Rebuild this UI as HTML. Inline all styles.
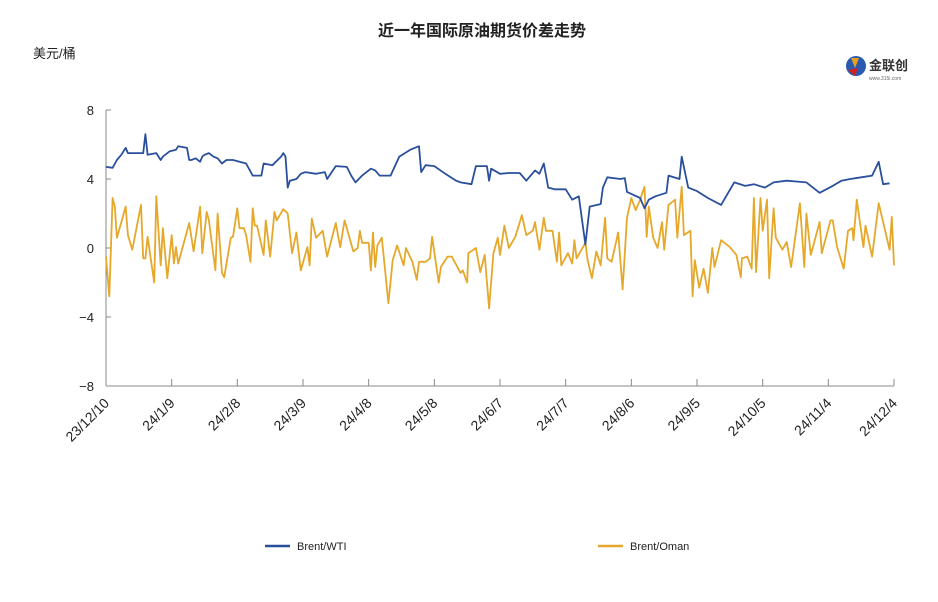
<!DOCTYPE html>
<html><head><meta charset="utf-8"><style>
body{margin:0;background:#fff;}
svg{display:block;font-family:"Liberation Sans","Noto Sans CJK SC",sans-serif;}
</style></head><body>
<svg id="c" width="938" height="602">
<text x="482" y="36" text-anchor="middle" font-size="16" font-weight="bold" fill="#222">近一年国际原油期货价差走势</text>
<text x="33" y="58" font-size="13" fill="#222">美元/桶</text>
<g>
<circle cx="856" cy="66" r="10" fill="#2a5ab0"/><path d="M851 58 l8 0 l-4 10z" fill="#e8a020"/><path d="M848 70 l10 -2 l-3 8z" fill="#d02020"/>
<text x="869" y="70" font-size="13" font-weight="bold" fill="#333">金联创</text>
<text x="869" y="80" font-size="5" fill="#666">www.315i.com</text>
</g>
<g id="axes"></g>
<g id="series"></g>
<g>
<line x1="265" y1="546" x2="290" y2="546" stroke="#2a4f9c" stroke-width="2.5"/>
<text x="297" y="550" font-size="11" fill="#222">Brent/WTI</text>
<line x1="598" y1="546" x2="623" y2="546" stroke="#e6a82a" stroke-width="2.5"/>
<text x="630" y="550" font-size="11" fill="#222">Brent/Oman</text>
</g>
</svg>
<script>
const yTicks=[8,4,0,-4,-8];
const xTickLabels=["23/12/10","24/1/9","24/2/8","24/3/9","24/4/8","24/5/8","24/6/7","24/7/7","24/8/6","24/9/5","24/10/5","24/11/4","24/12/4"];
const xTickDays=[0,30,60,90,120,150,180,210,240,270,300,330,360];
const wtiDays=[0,3,5,7,9,10,17,18,19,23,25,26,29,32,33,37,38,39,41,43,44,45,47,49,51,53,55,58,64,67,71,72,76,80,81,82,83,84,87,89,91,96,100,101,105,110,112,114,117,121,123,125,130,132,134,139,143,144,146,150,155,160,162,167,169,174,175,176,180,184,189,192,196,198,200,202,205,210,213,216,219,221,226,227,229,235,237,238,244,246,248,251,256,257,262,263,266,270,275,281,287,292,296,301,305,311,316,320,326,332,336,340,345,350,353,355,358,360];
const wtiVals=[4.7,4.65,5.1,5.4,5.8,5.5,5.5,6.6,5.4,5.5,5.1,5.3,5.6,5.7,5.9,5.8,5.1,5.1,5.2,5.0,5.3,5.4,5.5,5.3,5.2,4.9,5.1,5.1,4.9,4.2,4.2,4.9,4.8,5.3,5.5,5.3,3.5,3.9,4.0,4.3,4.4,4.3,4.4,4.0,4.75,4.7,4.2,3.8,4.2,4.6,4.5,4.2,4.2,4.75,5.3,5.7,5.9,4.4,4.8,4.75,4.3,3.9,3.8,3.7,4.75,4.75,3.9,4.6,4.3,4.35,4.35,3.9,4.5,4.3,4.9,3.5,3.4,3.4,2.8,3.0,0.2,2.4,2.55,3.5,4.1,4.0,4.05,3.25,2.9,2.3,2.8,3.0,3.2,4.2,4.0,5.3,3.5,3.3,2.9,2.5,3.8,3.6,3.7,3.5,3.8,3.9,3.85,3.8,3.2,3.6,3.9,4.0,4.1,4.2,5.0,3.7,3.75];
const omanDays=[0,1.5,3,4,5,9,10,12,16,17,18,19,22,23,25,26,28,30,31,32,33,38,40,43,44,46,47,50,51,53,54,57,58,60,61,63,64,66,67,68,69,72,73,75,77,78,81,83,85,87,89,92,93,94,96,99,101,105,107,109,113,115,116,117,120,121,122,123,124,126,129,131,133,136,137,140,142,143,146,148,149,152,153,156,158,162,163,165,165.5,169,171,173,175,177,179,180,182,184,187,190,192,195,196,198,200,201,204,206,207,208,211,213,214,215,219,220,222,224,226,228,229,231,234,236,238,240,242,244,246,247,248,250,252,254,255,257,260,261,263,264,267,268,269,271,273,275,277,278,281,285,288,290,290.5,293,295,296,297,299,300,302,303,305,306,309,311,313,317,319,320,322,326,327,331,332,334,337,339,341,341.5,343,346,347,350,353,358,359,360];
const omanVals=[-0.5,-2.8,2.9,2.4,0.6,2.4,0.75,-0.1,2.5,-0.6,-0.6,0.65,-2.0,3.0,-1.0,1.15,-1.75,0.75,-0.9,0.05,-0.9,1.45,-0.2,2.4,-0.3,2.1,1.6,-1.3,2.0,-1.45,-1.7,0.6,0.65,2.3,1.15,1.15,0.75,-0.8,2.3,1.3,1.3,-0.4,1.6,-0.5,2.1,1.6,2.25,2.0,-0.3,0.9,-1.3,0.05,-1.0,1.7,0.6,1.0,-0.5,1.45,0.05,1.6,-0.2,0,1.0,0.3,0.3,-1.3,0.9,-1.1,0.15,0.6,-3.2,-0.7,0.15,-1.0,0,-0.8,-1.85,-0.8,-0.8,-0.6,0.65,-2.0,-1.1,-0.5,-0.5,-1.45,-1.3,-2.0,-0.3,0,-1.4,-0.4,-3.5,-0.3,0.6,-0.4,1.3,0,0.65,1.9,0.75,1.0,1.5,-0.1,1.75,1.0,1.0,-0.8,0.9,-1.0,-0.3,-0.9,0.45,-0.6,0.3,-0.7,-1.75,-0.2,-1.0,1.75,-0.6,-0.8,0.9,-2.4,1.75,2.9,2.2,2.8,3.55,0.65,2.4,0.6,0,1.5,-0.1,2.5,2.8,0.6,3.55,0.75,1.0,-2.8,-0.7,-2.3,-1.2,-2.6,0,-1.1,0.45,0.05,-0.4,-1.7,-0.6,-0.5,-1.2,2.9,-1.4,2.9,1.0,2.8,-1.75,2.3,0.6,-0.1,0.35,-1.1,2.6,-1.1,2.0,-0.4,1.5,-0.3,1.6,1.6,0.05,-1.2,1.0,1.15,0.45,2.8,0.05,1.3,-0.5,2.6,-0.1,1.8,-1.0];

const X0=106,X1=894,Y0=110,Y1=386;
const xs=d=>X0+(X1-X0)*d/360;
const ys=v=>Y0+(Y1-Y0)*(8-v)/16;
const NS="http://www.w3.org/2000/svg";
const ax=document.getElementById('axes'),se=document.getElementById('series');
function mk(tag,at,parent){const e=document.createElementNS(NS,tag);for(const k in at)e.setAttribute(k,at[k]);parent.appendChild(e);return e;}
let l=mk('line',{x1:X0,y1:Y0,x2:X0,y2:Y1,stroke:'#888','stroke-width':1},ax);


l=mk('line',{x1:X0,y1:Y1,x2:X1,y2:Y1,stroke:'#888','stroke-width':1},ax);


yTicks.forEach(v=>{
  const t=mk('line',{x1:X0,y1:ys(v),x2:X0+5,y2:ys(v),stroke:'#888'},ax);
  
  
  const tx=mk('text',{x:X0-12,y:ys(v)+5,'text-anchor':'end','font-size':13,fill:'#222'},ax);
  tx.textContent=v<0?'\u2212'+(-v):String(v);
  
  
});
xTickDays.forEach((d,i)=>{
  const x=xs(d);
  const t=mk('line',{x1:x,y1:Y1,x2:x,y2:Y1-7,stroke:'#888'},ax);
  
  
  const tx=mk('text',{x:x+4,y:Y1+18,'text-anchor':'end','font-size':14,fill:'#222',transform:`rotate(-45 ${x+4} ${Y1+18})`},ax);
  tx.textContent=xTickLabels[i];
  
  
});
function line(days,vals,color,name){
  const p=mk('polyline',{points:days.map((d,i)=>xs(d).toFixed(1)+','+ys(vals[i]).toFixed(1)).join(' '),fill:'none',stroke:color,'stroke-width':1.8,'stroke-linejoin':'round'},se);
  
  
}
line(omanDays,omanVals,'#e6a82a','brent-oman-line');
line(wtiDays,wtiVals,'#2a4f9c','brent-wti-line');
</script>
</body></html>
